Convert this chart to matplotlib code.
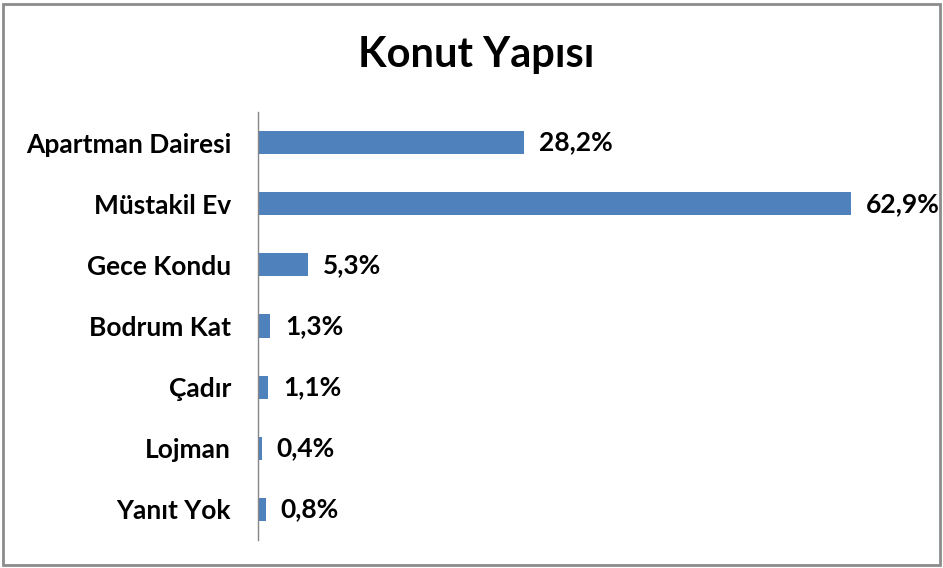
import matplotlib
matplotlib.use("Agg")
import matplotlib.pyplot as plt
from matplotlib.patches import Rectangle

categories = ["Apartman Dairesi", "Müstakil Ev", "Gece Kondu", "Bodrum Kat",
              "Çadır", "Lojman", "Yanıt Yok"]
values = [28.2, 62.9, 5.3, 1.3, 1.1, 0.4, 0.8]
value_labels = ["28,2%", "62,9%", "5,3%", "1,3%", "1,1%", "0,4%", "0,8%"]

BLUE = "#4f81bd"
FONT = "Lato"

fig = plt.figure(figsize=(9.43, 5.68), dpi=100)
ax = fig.add_axes([258 / 943, 28 / 568, 660 / 943, 428 / 568])

pos = list(range(len(categories)))[::-1]
ax.barh(pos, values, height=0.38, color=BLUE)
ax.set_xlim(0, 70)
ax.set_ylim(-0.5, len(categories) - 0.5)

for p, v, lab in zip(pos, values, value_labels):
    ax.text(v + 1.6, p, lab, va="center", ha="left", fontsize=19,
            fontweight="bold", family=FONT)

ax.set_yticks(pos)
ax.set_yticklabels(categories, fontsize=19, fontweight="bold", family=FONT)
ax.tick_params(axis="y", length=0, pad=19.5)
ax.set_xticks([])
for s in ["top", "right", "bottom"]:
    ax.spines[s].set_visible(False)
ax.spines["left"].set_color("#868686")
ax.spines["left"].set_linewidth(1.0)

fig.text(476 / 943, 1 - 55 / 568, "Konut Yapısı", ha="center", va="center",
         fontsize=30, fontweight="bold", family=FONT)

fig.patches.append(Rectangle((3 / 943, 3 / 568), 937 / 943, 561 / 568,
                             transform=fig.transFigure, fill=False,
                             edgecolor="#8c8c8c", linewidth=2))

fig.savefig("out.png", dpi=100)
